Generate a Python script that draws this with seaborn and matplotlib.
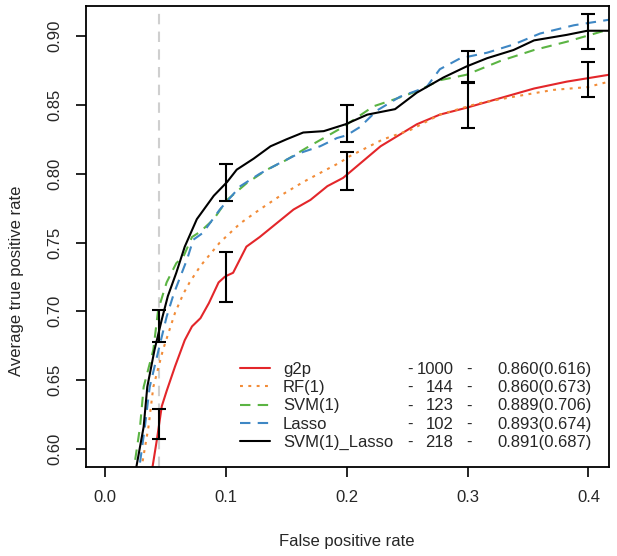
import matplotlib
matplotlib.use("Agg")
import matplotlib.pyplot as plt
import seaborn as sns
import pandas as pd

# ROC curves --------------------------------
methods = ["g2p", "RF(1)", "SVM(1)", "Lasso", "SVM(1)_Lasso"]
n_features = ["1000", "144", "123", "102", "218"]
auc_text = ["0.860(0.616)", "0.860(0.673)", "0.889(0.706)", "0.893(0.674)", "0.891(0.687)"]

g2p_fpr = [0.039, 0.043, 0.047, 0.051, 0.058, 0.066, 0.072, 0.079, 0.086, 0.094, 0.099,
           0.101, 0.106, 0.117, 0.128, 0.142, 0.156, 0.170, 0.184, 0.197, 0.228, 0.258,
           0.277, 0.299, 0.327, 0.355, 0.382, 0.417]
g2p_tpr = [0.585, 0.607, 0.631, 0.642, 0.660, 0.679, 0.689, 0.695, 0.706, 0.721, 0.725,
           0.726, 0.728, 0.747, 0.754, 0.764, 0.774, 0.781, 0.791, 0.797, 0.820, 0.836,
           0.843, 0.848, 0.855, 0.862, 0.867, 0.872]

rf_fpr = [0.030, 0.036, 0.040, 0.048, 0.058, 0.065, 0.070, 0.079, 0.095, 0.112, 0.128,
          0.145, 0.164, 0.181, 0.194, 0.203, 0.230, 0.253, 0.277, 0.308, 0.338, 0.371,
          0.399, 0.417]
rf_tpr = [0.585, 0.616, 0.645, 0.672, 0.699, 0.713, 0.721, 0.733, 0.750, 0.764, 0.774,
          0.784, 0.794, 0.802, 0.808, 0.813, 0.825, 0.832, 0.843, 0.851, 0.856, 0.861,
          0.863, 0.867]

svm_fpr = [0.025, 0.029, 0.032, 0.040, 0.044, 0.051, 0.059, 0.065, 0.072, 0.079, 0.090,
           0.101, 0.117, 0.134, 0.150, 0.167, 0.181, 0.197, 0.222, 0.239, 0.258, 0.277,
           0.299, 0.327, 0.355, 0.382, 0.417]
svm_tpr = [0.592, 0.616, 0.645, 0.672, 0.701, 0.721, 0.735, 0.740, 0.754, 0.758, 0.767,
           0.781, 0.793, 0.803, 0.810, 0.819, 0.826, 0.834, 0.849, 0.854, 0.860, 0.868,
           0.872, 0.882, 0.890, 0.896, 0.905]

lasso_fpr = [0.029, 0.033, 0.037, 0.043, 0.051, 0.057, 0.068, 0.073, 0.081, 0.095, 0.112,
             0.128, 0.145, 0.161, 0.178, 0.192, 0.200, 0.211, 0.225, 0.244, 0.266, 0.277,
             0.294, 0.316, 0.338, 0.360, 0.388, 0.417]
lasso_tpr = [0.590, 0.616, 0.645, 0.667, 0.696, 0.713, 0.738, 0.752, 0.757, 0.774, 0.791,
             0.800, 0.808, 0.815, 0.820, 0.826, 0.828, 0.834, 0.846, 0.856, 0.863, 0.876,
             0.884, 0.888, 0.894, 0.902, 0.908, 0.912]

combo_fpr = [0.026, 0.032, 0.035, 0.041, 0.047, 0.052, 0.059, 0.066, 0.076, 0.090, 0.101,
             0.109, 0.123, 0.137, 0.150, 0.164, 0.181, 0.199, 0.217, 0.240, 0.258, 0.280,
             0.299, 0.316, 0.338, 0.355, 0.382, 0.399, 0.417]
combo_tpr = [0.587, 0.616, 0.645, 0.672, 0.694, 0.711, 0.728, 0.747, 0.767, 0.784, 0.794,
             0.803, 0.811, 0.820, 0.825, 0.830, 0.831, 0.836, 0.843, 0.847, 0.859, 0.870,
             0.878, 0.884, 0.890, 0.897, 0.901, 0.904, 0.904]

# error bars (upper / lower groups)
eb_fpr = [0.045, 0.045, 0.1, 0.1, 0.2, 0.2, 0.3, 0.3, 0.4, 0.4]
eb_lo = [0.678, 0.607, 0.780, 0.707, 0.823, 0.788, 0.867, 0.833, 0.891, 0.856]
eb_hi = [0.701, 0.629, 0.807, 0.743, 0.850, 0.816, 0.889, 0.866, 0.916, 0.881]

cutoff_fpr = 0.045

colors = ["#E3262A", "#F28C38", "#5BB443", "#3E87C4", "#000000"]
dash_styles = ["", (1.4, 2.6), (5, 3.5), (5, 3.5), ""]

curves = [(g2p_fpr, g2p_tpr), (rf_fpr, rf_tpr), (svm_fpr, svm_tpr),
          (lasso_fpr, lasso_tpr), (combo_fpr, combo_tpr)]
frames = []
for name, (fx, ty) in zip(methods, curves):
    frames.append(pd.DataFrame({"fpr": fx, "tpr": ty, "method": name}))
df = pd.concat(frames, ignore_index=True)

sns.set_style("ticks")
plt.rcParams["font.family"] = ["Liberation Sans", "DejaVu Sans"]

fig = plt.figure(figsize=(6.17, 5.56), dpi=100)
ax = fig.add_axes([86 / 617, 1 - 466.7 / 556, 523 / 617, 460.7 / 556])

ax.axvline(cutoff_fpr, color="#CFCFCF", lw=1.5, dashes=(5, 3.5), zorder=1)

sns.lineplot(data=df, x="fpr", y="tpr", hue="method", style="method",
             hue_order=methods, style_order=methods,
             palette=dict(zip(methods, colors)),
             dashes=dict(zip(methods, dash_styles)),
             sort=False, estimator=None, lw=1.5, legend=False, ax=ax)

eb_mid = [(a + b) / 2 for a, b in zip(eb_lo, eb_hi)]
eb_err = [(b - a) / 2 for a, b in zip(eb_lo, eb_hi)]
ax.errorbar(eb_fpr, eb_mid, yerr=eb_err, fmt="none", ecolor="black",
            elinewidth=1.5, capsize=5, capthick=1.5, zorder=5)

ax.set_xlim(-0.0157, 0.417)
ax.set_ylim(0.587, 0.922)
ax.set_xticks([0.0, 0.1, 0.2, 0.3, 0.4])
ax.set_xticklabels(["0.0", "0.1", "0.2", "0.3", "0.4"])
ax.set_yticks([0.60, 0.65, 0.70, 0.75, 0.80, 0.85, 0.90])
ax.set_yticklabels(["0.60", "0.65", "0.70", "0.75", "0.80", "0.85", "0.90"],
                   rotation=90, va="center")
ax.tick_params(direction="out", length=7, width=1.2, labelsize=12, pad=10, color="black")
for s in ax.spines.values():
    s.set_visible(True)
    s.set_color("black")
    s.set_linewidth(1.3)

ax.set_xlabel("False positive rate", fontsize=12, va="center")
ax.set_ylabel("Average true positive rate", fontsize=12, va="center")
ax.xaxis.set_label_coords(0.4985, -0.1628)
ax.yaxis.set_label_coords(-0.1325, 0.404)

leg = ax.legend(ax.lines[1:6], methods, loc="upper left",
                bbox_to_anchor=((240 - 86) / 523, (466.7 - 361.7) / 460.7),
                frameon=False, fontsize=12, handlelength=1.8, handletextpad=0.78,
                labelspacing=0.2, borderpad=0, borderaxespad=0)

# extra legend columns lined up with the legend rows
fig.canvas.draw()
inv = ax.transAxes.inverted()
for txt, cnt, auc in zip(leg.get_texts(), n_features, auc_text):
    bb = txt.get_window_extent()
    yc = inv.transform((0, (bb.y0 + bb.y1) / 2))[1]
    ax.text((410.5 - 86) / 523, yc, "-", ha="center", va="center", fontsize=12, transform=ax.transAxes)
    ax.text((453.3 - 86) / 523, yc, cnt, ha="right", va="center", fontsize=12, transform=ax.transAxes)
    ax.text((468.5 - 86) / 523, yc, "-", ha="center", va="center", fontsize=12, transform=ax.transAxes)
    ax.text((591.7 - 86) / 523, yc, auc, ha="right", va="center", fontsize=12, transform=ax.transAxes)

fig.savefig("out.png", dpi=100)
